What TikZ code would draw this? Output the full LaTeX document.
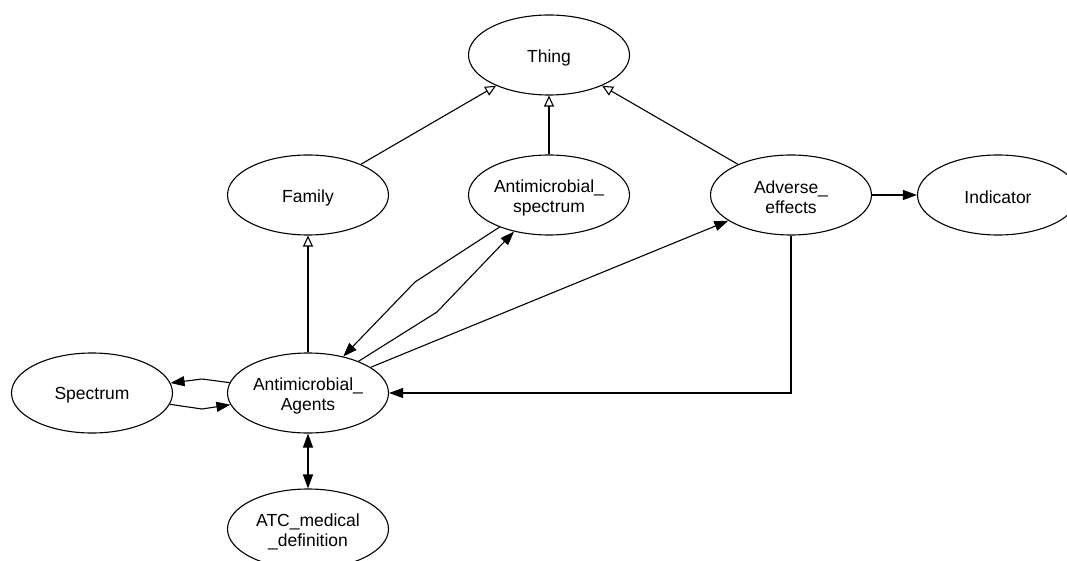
\documentclass[tikz,border=0pt]{standalone}
\usepackage{fontspec}
\setmainfont{Liberation Sans}
\usetikzlibrary{shapes.geometric,arrows.meta}
\begin{document}
\begin{tikzpicture}[x=1pt,y=-1pt,
  txt/.style={align=center,inner sep=0pt,yshift=-2.5pt,font=\fontsize{17.5}{20}\selectfont},
  cls/.style={draw,ellipse,line width=1.1pt,minimum width=161pt,minimum height=80pt,inner sep=0pt,
    label={[txt]center:{#1}}},
  link/.style={line width=1.1pt,-{Triangle[length=14pt,width=10pt]}},
  blink/.style={line width=1.1pt,{Triangle[length=14pt,width=10pt]}-{Triangle[length=14pt,width=10pt]}},
  isa/.style={line width=1.1pt,-{Triangle[open,length=11pt,width=10pt]}}]
\useasboundingbox (0,0) rectangle (1067,561);
\node[cls={Thing}] (thing) at (549,55) {};
\node[cls={Family}] (family) at (308,195) {};
\node[cls={Antimicrobial\_\\spectrum}] (aspec) at (549,195) {};
\node[cls={Adverse\_\\effects}] (adv) at (791,195) {};
\node[cls={Indicator}] (ind) at (998,195) {};
\node[cls={Spectrum}] (spec) at (92,393) {};
\node[cls={Antimicrobial\_\\Agents}] (agents) at (308,393) {};
\node[cls={ATC\_medical\\\_definition}] (atc) at (308,529) {};
\coordinate (k1) at (415,282);
\coordinate (k2) at (437,312);
\coordinate (k3) at (202,379);
\coordinate (k4) at (202,409);
\draw[isa] (family) -- (thing);
\draw[isa] (aspec) -- (thing);
\draw[isa] (adv) -- (thing);
\draw[isa] (agents) -- (family);
\draw[link] (aspec) -- (k1) -- (agents);
\draw[link] (agents) -- (k2) -- (aspec);
\draw[link] (agents) -- (adv);
\draw[link] (adv) |- (agents);
\draw[link] (adv) -- (ind);
\draw[link] (agents) -- (k3) -- (spec);
\draw[link] (spec) -- (k4) -- (agents);
\draw[blink] (agents) -- (atc);
\end{tikzpicture}
\end{document}
